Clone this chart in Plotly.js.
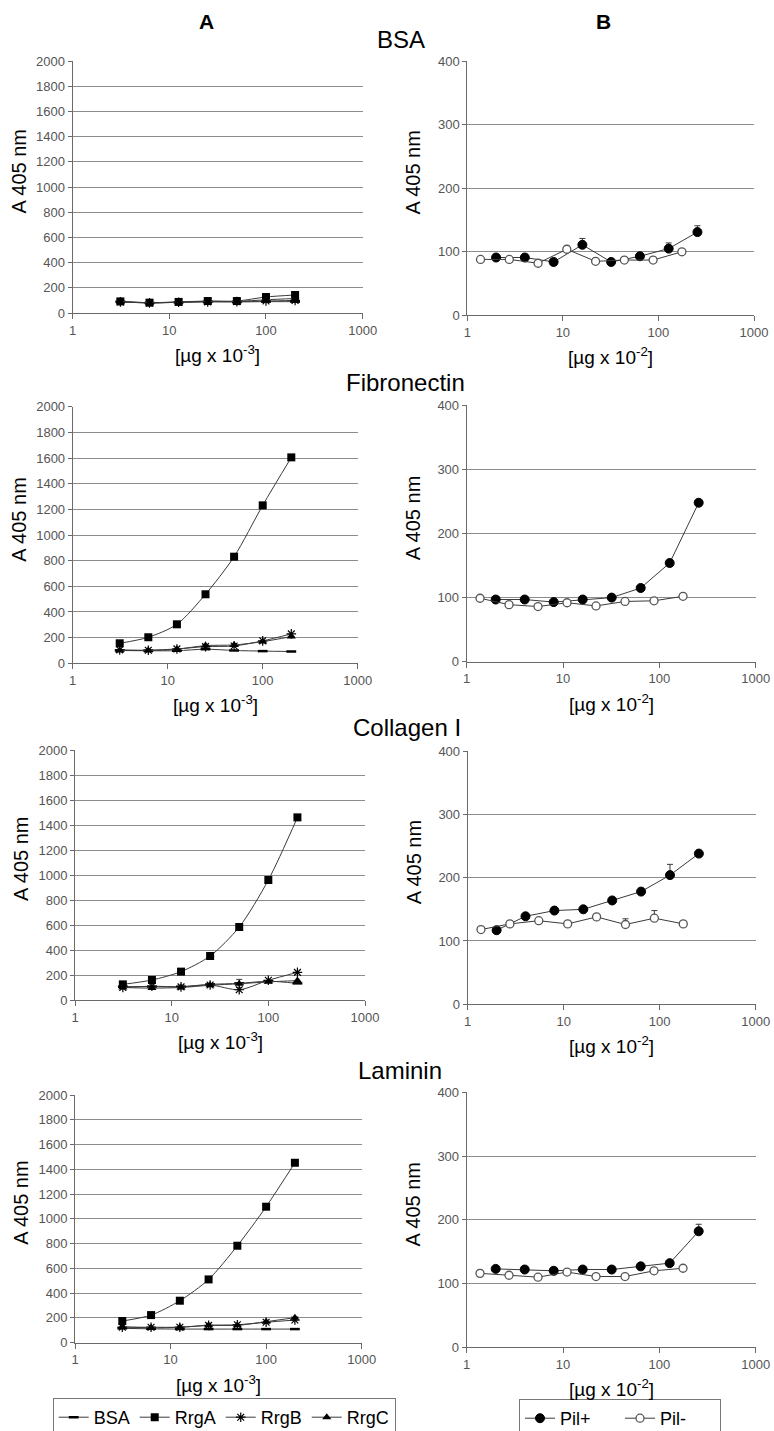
<!DOCTYPE html>
<html>
<head>
<meta charset="utf-8">
<script src="https://cdn.plot.ly/plotly-3.0.1.min.js"></script>
<style>html,body{margin:0;padding:0;background:#fff;overflow:hidden;}#chart{width:774px;height:1431px;}</style>
</head>
<body>
<div id="chart"></div>
<script>
// ---------- data ----------
const sections = ["BSA", "Fibronectin", "Collagen I", "Laminin"];
const seriesA = ["BSA", "RrgA", "RrgB", "RrgC"];
const seriesB = ["Pil+", "Pil-"];
const xTickVals = [1, 10, 100, 1000];
const xTickText = ["1", "10", "100", "1000"];

// Panel A concentrations [µg x 10^-3]
const concA = [3.125, 6.25, 12.5, 25, 50, 100, 200];
// Panel B concentrations [µg x 10^-2]
const concPilPlus = [2, 4, 8, 16, 32, 64, 128, 256];
const concPilMinus = [1.375, 2.75, 5.5, 11, 22, 44, 88, 176];

// BSA-coated
const bsa_BSA  = [90, 80, 85, 90, 88, 90, 90];
const bsa_RrgA = [92, 82, 88, 95, 95, 127, 143];
const bsa_RrgB = [88, 80, 85, 88, 90, 95, 100];
const bsa_RrgC = [90, 82, 86, 92, 92, 105, 115];
const bsa_PilPlus  = [91, 91, 84, 111, 84, 93, 105, 131];
const bsa_PilMinus = [88, 88, 82, 104, 85, 87, 87, 100];
const bsa_PilPlusErr  = [0, 0, 0, 10, 0, 0, 9, 10];
const bsa_PilMinusErr = [0, 0, 0, 5, 0, 0, 0, 0];

// Fibronectin-coated
const fn_BSA  = [100, 98, 98, 110, 100, 95, 92];
const fn_RrgA = [156, 203, 304, 538, 831, 1231, 1605];
const fn_RrgB = [105, 102, 112, 130, 135, 175, 229];
const fn_RrgC = [100, 100, 110, 138, 143, 169, 208];
const fn_PilPlus  = [97, 97, 93, 97, 100, 115, 154, 248];
const fn_PilMinus = [99, 89, 86, 92, 87, 94, 95, 102];
const fn_PilPlusErr  = [0, 0, 0, 0, 0, 0, 0, 3];
const fn_PilMinusErr = [0, 0, 0, 0, 0, 0, 0, 0];

// Collagen I-coated
const col_BSA  = [107, 107, 107, 125, 133, 150, 133];
const col_RrgA = [125, 160, 227, 352, 584, 960, 1461];
const col_RrgB = [100, 110, 105, 120, 82, 158, 221];
const col_RrgC = [100, 95, 100, 118, 130, 145, 155];
const col_BSAErr = [0, 0, 0, 0, 32, 0, 0];
const col_PilPlus  = [117, 139, 148, 150, 164, 178, 204, 238];
const col_PilMinus = [118, 127, 132, 127, 138, 126, 136, 127];
const col_PilPlusErr  = [0, 0, 5, 0, 0, 5, 17, 0];
const col_PilMinusErr = [0, 0, 3, 0, 0, 9, 12, 0];

// Laminin-coated
const lam_BSA  = [116, 112, 110, 110, 110, 110, 110];
const lam_RrgA = [175, 223, 339, 511, 783, 1098, 1453];
const lam_RrgB = [125, 125, 125, 140, 145, 165, 183];
const lam_RrgC = [129, 120, 125, 140, 140, 170, 202];
const lam_PilPlus  = [123, 122, 120, 122, 122, 127, 132, 182];
const lam_PilMinus = [116, 113, 110, 118, 111, 111, 120, 124];
const lam_PilPlusErr  = [0, 0, 0, 0, 0, 5, 0, 11];
const lam_PilMinusErr = [5, 0, 0, 0, 0, 0, 4, 4];

// ---------- styling / geometry ----------
const W = 774, H = 1431;
const FONT = "Liberation Sans, Arial, Helvetica, sans-serif";
const lineCol = "#3a3a3a";
const gridCol = "#8c8c8c";
const tickCol = "#6a6a6a";

// plot boxes in pixels [left, right, top, bottom]
const boxesA = [[72.5, 362.7, 61, 313], [72.7, 357.7, 406.7, 663.3], [75, 365, 750, 1000], [75, 361.7, 1095, 1342.7]];
const boxesB = [[467.3, 754, 61.3, 315.3], [466.7, 755.7, 405.3, 661.7], [467.7, 755.7, 751, 1004.3], [466.7, 755.7, 1092.3, 1347.3]];
const sectionPos = [[401, 40], [405, 382], [407, 728], [400, 1070]];

const dataA = [
  [bsa_BSA, bsa_RrgA, bsa_RrgB, bsa_RrgC, null],
  [fn_BSA, fn_RrgA, fn_RrgB, fn_RrgC, null],
  [col_BSA, col_RrgA, col_RrgB, col_RrgC, col_BSAErr],
  [lam_BSA, lam_RrgA, lam_RrgB, lam_RrgC, null]
];
const dataB = [
  [bsa_PilPlus, bsa_PilMinus, bsa_PilPlusErr, bsa_PilMinusErr],
  [fn_PilPlus, fn_PilMinus, fn_PilPlusErr, fn_PilMinusErr],
  [col_PilPlus, col_PilMinus, col_PilPlusErr, col_PilMinusErr],
  [lam_PilPlus, lam_PilMinus, lam_PilPlusErr, lam_PilMinusErr]
];

const markerA = {
  "BSA":  {symbol: "line-ew", size: 7, color: "#000", line: {color: "#000", width: 2.5}},
  "RrgA": {symbol: "square", size: 8, color: "#000"},
  "RrgB": {symbol: "asterisk-open", size: 8, color: "#000", line: {color: "#000", width: 1.2}},
  "RrgC": {symbol: "triangle-up", size: 8, color: "#000"}
};
const markerB = {
  "Pil+": {symbol: "circle", size: 9, color: "#000", line: {color: "#000", width: 1}},
  "Pil-": {symbol: "circle", size: 8, color: "#fff", line: {color: "#555", width: 1.3}}
};

const px = (x) => x / W;
const py = (y) => 1 - y / H;

const traces = [];
const layout = {
  width: W, height: H,
  margin: {l: 0, r: 0, t: 0, b: 0, pad: 0, autoexpand: false},
  paper_bgcolor: "#fff", plot_bgcolor: "#fff",
  font: {family: FONT, color: "#000"},
  annotations: [],
  legend: {
    orientation: "h", x: px(52.7), y: py(1398), xanchor: "left", yanchor: "top",
    bordercolor: "#777", borderwidth: 1, font: {size: 18, family: FONT, color: "#000"},
    bgcolor: "#fff", itemwidth: 30, tracegroupgap: 0
  },
  legend2: {
    orientation: "h", x: px(519), y: py(1399), xanchor: "left", yanchor: "top",
    bordercolor: "#777", borderwidth: 1, font: {size: 18, family: FONT, color: "#000"},
    bgcolor: "#fff", entrywidth: 55, entrywidthmode: "pixels"
  }
};

function addAxes(idx, box, yMax, yStep) {
  const xName = idx === 1 ? "xaxis" : "xaxis" + idx;
  const yName = idx === 1 ? "yaxis" : "yaxis" + idx;
  layout[xName] = {
    domain: [px(box[0]), px(box[1])],
    anchor: idx === 1 ? "y" : "y" + idx,
    type: "log", range: [0, 3],
    tickvals: xTickVals, ticktext: xTickText,
    showgrid: false, zeroline: false,
    showline: true, linecolor: tickCol, linewidth: 1,
    ticks: "outside", ticklen: 5, tickcolor: tickCol,
    tickfont: {size: 13, color: "#555", family: FONT},
    automargin: false, fixedrange: true
  };
  layout[yName] = {
    domain: [py(box[3]), py(box[2])],
    anchor: idx === 1 ? "x" : "x" + idx,
    range: [0, yMax], dtick: yStep, tick0: 0,
    showgrid: true, gridcolor: gridCol, gridwidth: 1,
    zeroline: false,
    showline: true, linecolor: tickCol, linewidth: 1,
    ticks: "outside", ticklen: 4, tickcolor: tickCol,
    tickfont: {size: 13, color: "#555", family: FONT},
    automargin: false, fixedrange: true
  };
}

function axisTitles(box, unitExp) {
  const cx = (box[0] + box[1]) / 2;
  const cy = (box[2] + box[3]) / 2 - 16;
  layout.annotations.push({
    xref: "paper", yref: "paper", x: px(box[0] - 54), y: py(cy),
    text: "A 405 nm", textangle: -90, showarrow: false,
    font: {size: 20, family: FONT, color: "#000"}, xanchor: "center", yanchor: "middle"
  });
  layout.annotations.push({
    xref: "paper", yref: "paper", x: px(cx), y: py(box[3] + 41),
    text: "[µg x 10<sup>" + unitExp + "</sup>]", showarrow: false,
    font: {size: 19, family: FONT, color: "#000"}, xanchor: "center", yanchor: "middle"
  });
}

for (let r = 0; r < 4; r++) {
  const ia = 2 * r + 1, ib = 2 * r + 2;
  addAxes(ia, boxesA[r], 2000, 200);
  addAxes(ib, boxesB[r], 400, 100);
  axisTitles(boxesA[r], "-3");
  axisTitles(boxesB[r], "-2");
  layout.annotations.push({
    xref: "paper", yref: "paper", x: px(sectionPos[r][0]), y: py(sectionPos[r][1]),
    text: sections[r], showarrow: false, font: {size: 24, family: FONT, color: "#000"},
    xanchor: "center", yanchor: "middle"
  });

  const xa = ia === 1 ? "x" : "x" + ia, ya = ia === 1 ? "y" : "y" + ia;
  seriesA.forEach((name, k) => {
    const t = {
      type: "scatter", mode: "lines+markers", name: name,
      x: concA, y: dataA[r][k], xaxis: xa, yaxis: ya,
      line: {color: lineCol, width: 1, shape: "spline", smoothing: 0.8},
      marker: markerA[name],
      showlegend: r === 3, legend: "legend", cliponaxis: false
    };
    if (name === "BSA" && dataA[r][4]) {
      t.error_y = {type: "data", array: dataA[r][4], visible: true, color: lineCol, thickness: 1, width: 3};
    }
    traces.push(t);
  });

  const xb = "x" + ib, yb = "y" + ib;
  const xsB = [concPilPlus, concPilMinus];
  seriesB.forEach((name, k) => {
    const errs = dataB[r][k + 2];
    traces.push({
      type: "scatter", mode: "lines+markers", name: name,
      x: xsB[k], y: dataB[r][k], xaxis: xb, yaxis: yb,
      line: {color: lineCol, width: 1},
      marker: markerB[name],
      error_y: {type: "data", symmetric: false, array: errs, arrayminus: errs.map(() => 0),
                visible: true, color: lineCol, thickness: 1, width: 3},
      showlegend: r === 3, legend: "legend2", cliponaxis: false
    });
  });
}

// column headers
layout.annotations.push({xref: "paper", yref: "paper", x: px(207), y: py(22), text: "<b>A</b>",
  showarrow: false, font: {size: 21, family: FONT, color: "#000"}, xanchor: "center", yanchor: "middle"});
layout.annotations.push({xref: "paper", yref: "paper", x: px(603), y: py(21), text: "<b>B</b>",
  showarrow: false, font: {size: 21, family: FONT, color: "#000"}, xanchor: "center", yanchor: "middle"});

Plotly.newPlot("chart", traces, layout, {staticPlot: true, displayModeBar: false});
</script>
</body>
</html>
